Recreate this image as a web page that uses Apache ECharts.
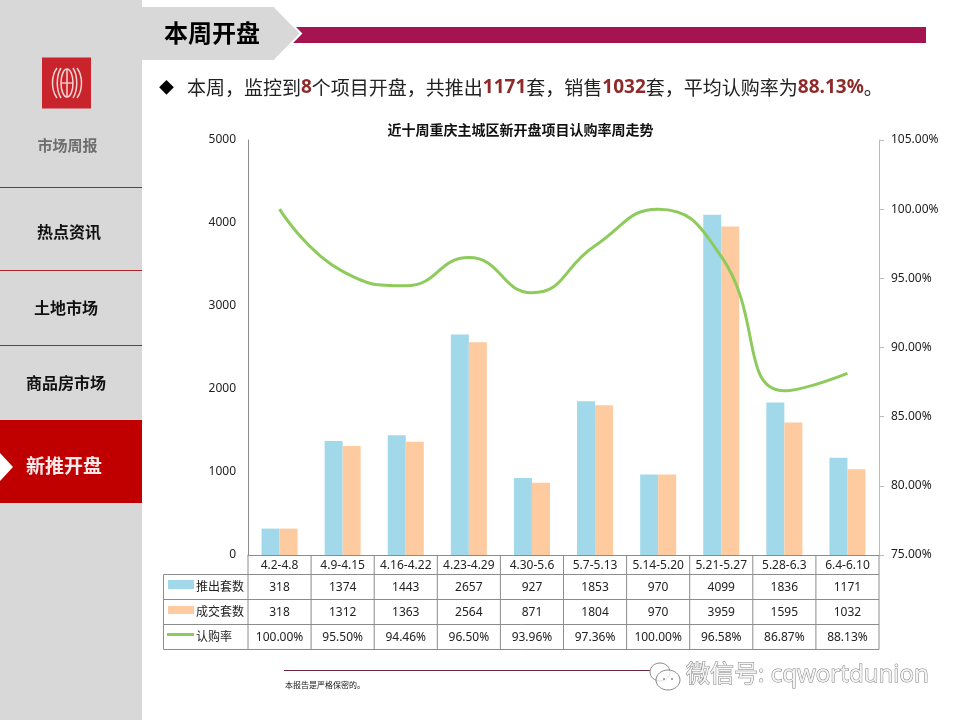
<!DOCTYPE html>
<html><head><meta charset="utf-8">
<style>html,body{margin:0;padding:0;background:#fff}#c{width:960px;height:720px}</style>
<script src="https://cdn.jsdelivr.net/npm/echarts@6/dist/echarts.min.js"></script>
</head><body><div id="c"></div>
<script>
const categories = ['4.2-4.8','4.9-4.15','4.16-4.22','4.23-4.29','4.30-5.6','5.7-5.13','5.14-5.20','5.21-5.27','5.28-6.3','6.4-6.10'];
const launched = [318,1374,1443,2657,927,1853,970,4099,1836,1171];
const sold = [318,1312,1363,2564,871,1804,970,3959,1595,1032];
const rate = [100.00,95.50,94.46,96.50,93.96,97.36,100.00,96.58,86.87,88.13];
const seriesNames = ['推出套数','成交套数','认购率'];
const menu = ['热点资讯','土地市场','商品房市场','新推开盘'];

const CJK = '"Noto Sans CJK SC","Noto Sans",sans-serif';
const NUM = '"Noto Sans","Noto Sans CJK SC",sans-serif';
const BLUE='#a2d9ea', ORANGE='#fdcb9f', GREEN='#8ecb5c', GRID='#8c8c8c';
const chart = echarts.init(document.getElementById('c'),null,{renderer:'canvas'});
const grid = {left:248,right:81,top:140,bottom:165};

chart.setOption({
  animation:false,
  backgroundColor:'#fff',
  grid,
  xAxis:{type:'category',data:categories,
    axisLine:{lineStyle:{color:GRID}},axisTick:{show:false},
    axisLabel:{color:'#222',fontFamily:NUM,fontSize:12,margin:5,interval:0}},
  yAxis:[
    {type:'value',min:0,max:5000,interval:1000,splitLine:{show:false},
     axisLine:{show:true,lineStyle:{color:GRID}},axisTick:{show:false},
     axisLabel:{color:'#222',fontFamily:NUM,fontSize:12,margin:12,formatter:v=>String(v)}},
    {type:'value',min:75,max:105,interval:5,splitLine:{show:false},position:'right',
     axisLine:{show:true,lineStyle:{color:'#bbb'}},axisTick:{show:true,length:5,lineStyle:{color:'#bbb'}},
     axisLabel:{color:'#222',fontFamily:NUM,fontSize:12,margin:12,formatter:v=>v.toFixed(2)+'%'}}
  ],
  series:[
    {name:seriesNames[0],type:'bar',data:launched,barWidth:18,barGap:'0%',itemStyle:{color:BLUE}},
    {name:seriesNames[1],type:'bar',data:sold,barWidth:18,barGap:'0%',itemStyle:{color:ORANGE}},
    {name:seriesNames[2],type:'line',yAxisIndex:1,data:rate,smooth:0.5,showSymbol:false,symbol:'none',
     lineStyle:{color:GREEN,width:3},z:5}
  ]
});

const centres = categories.map((c,i)=>chart.convertToPixel({xAxisIndex:0},c));
const colW = (960-grid.left-grid.right)/categories.length;
const L = grid.left, R = 960-grid.right;
const rowsY = [555,574.5,599.5,624.5,649.5];
const gfx = [];
const ln=(x1,y1,x2,y2,c,w,z)=>gfx.push({type:'line',shape:{x1,y1,x2,y2},style:{stroke:c,lineWidth:w||1},z:z||10,silent:true});
const rect=(x,y,w,h,c,z)=>gfx.push({type:'rect',shape:{x,y,width:w,height:h},style:{fill:c},z:z||1,silent:true});
const txt=(x,y,t,o)=>gfx.push({type:'text',x,y,z:20,silent:true,style:Object.assign({text:t,fill:'#222',font:'12px '+NUM,textAlign:'center',textVerticalAlign:'middle'},o||{})});

// sidebar
rect(0,0,142,720,'#d9d8d9');
// header ribbon
rect(293,27,633,16,'#a51350',2);
gfx.push({type:'polygon',shape:{points:[[142,7],[275,7],[301,33.5],[275,60],[142,60]]},style:{fill:'#d9d8d9'},z:3,silent:true});
gfx.push({type:'polyline',shape:{points:[[275,7],[301,33.5],[275,60]]},style:{stroke:'#fff',lineWidth:2,fill:null},z:3,silent:true});
txt(212,33,'本周开盘',{font:'bold 24px '+CJK,fill:'#000'});

// logo
rect(42,57.5,49,51,'#c9232b',2);
const lc='#f3d6d2';
gfx.push({type:'ellipse',shape:{cx:67,cy:83,rx:6,ry:14},style:{fill:null,stroke:lc,lineWidth:1.5},z:3,silent:true});
ln(67,69,67,97,lc,1.5,3); ln(61,83,73,83,lc,1.3,3);
[[57,68,51,76,51,90,57,98],[77,68,83,76,83,90,77,98],[61,68,56,76,56,90,61,98],[73,68,78,76,78,90,73,98]].forEach(p=>
  gfx.push({type:'bezierCurve',shape:{x1:p[0],y1:p[1],cpx1:p[2],cpy1:p[3],cpx2:p[4],cpy2:p[5],x2:p[6],y2:p[7]},style:{fill:null,stroke:lc,lineWidth:1.5},z:3,silent:true}));
txt(67.5,145,'市场周报',{font:'bold 15px '+CJK,fill:'#6e6e6e'});

// menu
[187,270,345].forEach(y=>ln(0,y+.5,142,y+.5,'#a8232b',1,3));
txt(69,232,menu[0],{font:'bold 16px '+CJK,fill:'#111'});
txt(66,308,menu[1],{font:'bold 16px '+CJK,fill:'#111'});
txt(66,383,menu[2],{font:'bold 16px '+CJK,fill:'#111'});
rect(0,420,142,83,'#c00000',2);
gfx.push({type:'polygon',shape:{points:[[0,453],[13,467],[0,481]]},style:{fill:'#fff'},z:3,silent:true});
txt(64,466,menu[3],{font:'bold 19px '+CJK,fill:'#fbeaea'});

// headline
txt(159,87,'◆',{font:'15px '+CJK,fill:'#000',textAlign:'left'});
gfx.push({type:'text',x:187,y:88,z:20,silent:true,style:{
  text:'{n|本周，监控到}{b|8}{n|个项目开盘，共推出}{b|1171}{n|套，销售}{b|1032}{n|套，平均认购率为}{b|88.13%}{n|。}',
  textAlign:'left',textVerticalAlign:'middle',
  rich:{n:{font:'19px '+CJK,fill:'#222'},b:{font:'bold 19px '+NUM,fill:'#8e2a2a'}}}});

// chart title
txt(520.5,130,'近十周重庆主城区新开盘项目认购率周走势',{font:'bold 14px '+CJK,fill:'#111'});

// data table
rowsY.forEach((y,i)=>{ if(i>0) ln(i<1?L:163.5,y,R,y,GRID,1); });
ln(163.5,574.5,163.5,649.5,GRID,1);
for(let i=0;i<=categories.length;i++){const x=L+colW*i;ln(x,555,x,649.5,GRID,1);}
const rows=[launched.map(String),sold.map(String),rate.map(v=>v.toFixed(2)+'%')];
rows.forEach((r,ri)=>r.forEach((t,ci)=>txt(centres[ci],(rowsY[ri+1]+rowsY[ri+2])/2+0.5,t)));
rect(168,580,26,9,BLUE,12);
rect(168,606,26,8,ORANGE,12);
ln(167,634.5,194,634.5,GREEN,3,12);
seriesNames.forEach((n,i)=>txt(196,[586,611,636][i],n,{font:'12px '+CJK,textAlign:'left'}));

// footer
ln(284,670.5,650,670.5,'#6b2a44',1);
txt(285,685,'本报告是严格保密的。',{font:'8px '+CJK,textAlign:'left',fill:'#111'});

// watermark
const wm={fill:'rgba(255,255,255,0.75)',stroke:'#8a8a8a',lineWidth:1};
gfx.push({type:'ellipse',shape:{cx:660,cy:672,rx:10,ry:9},style:wm,z:21,silent:true});
gfx.push({type:'ellipse',shape:{cx:668,cy:680,rx:12,ry:10},style:wm,z:21,silent:true});
[[664,679],[672,679]].forEach(p=>gfx.push({type:'circle',shape:{cx:p[0],cy:p[1],r:1},style:{fill:'#8a8a8a'},z:22,silent:true}));
txt(686,675,'微信号: cqwortdunion',{font:'24px '+NUM,textAlign:'left',fill:'#f4f4f4',stroke:'#7f7f7f',lineWidth:1});

chart.setOption({graphic:{elements:gfx}});
</script></body></html>
